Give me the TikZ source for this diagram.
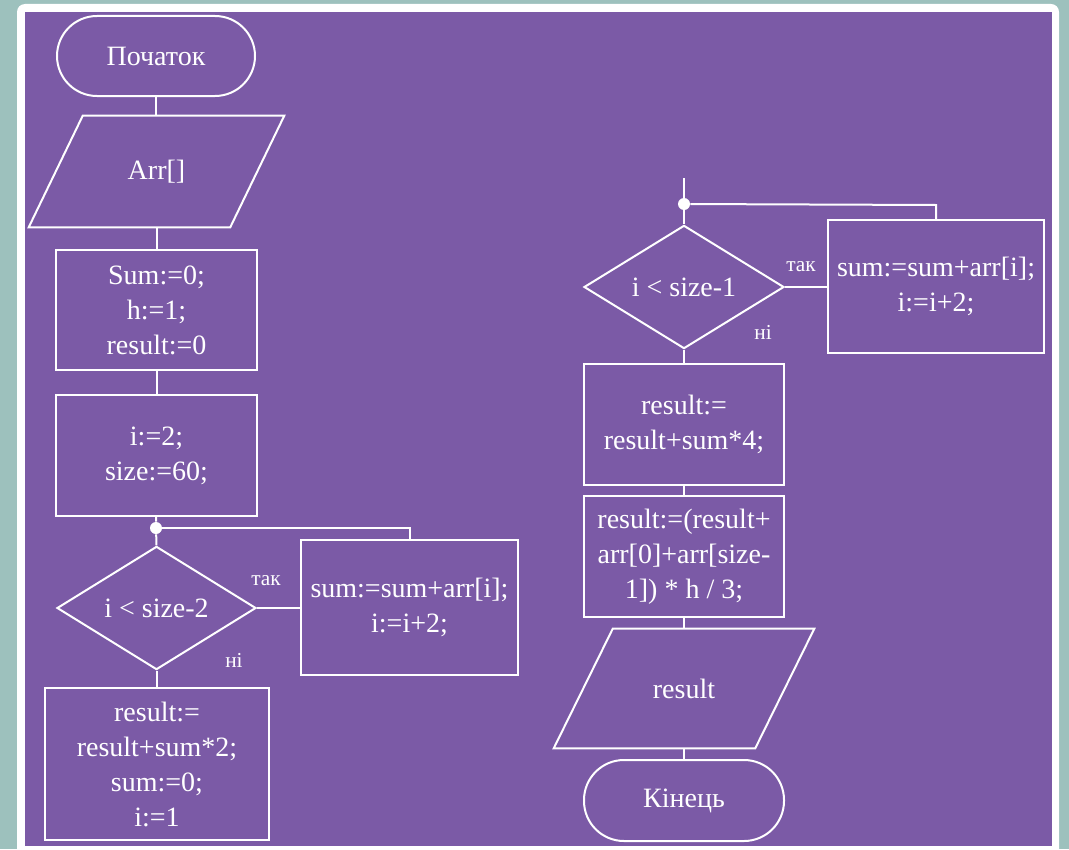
\documentclass[tikz,border=0pt]{standalone}
\usepackage{fontspec}
\setmainfont{Liberation Serif}
\usetikzlibrary{shapes.geometric,calc}
\definecolor{bgteal}{HTML}{9DC1BD}
\definecolor{panelpurple}{HTML}{7B5AA6}
\begin{document}
\begin{tikzpicture}[x=0.75pt,y=-0.75pt,
  every node/.style={text=white,font=\fontsize{21}{26.25}\selectfont,align=center,inner sep=0pt},
  flow/.style={draw=white,line width=1.5pt},
  termbox/.style={flow,rectangle,rounded corners=30pt,minimum width=150pt,minimum height=60pt},
  procbox/.style={flow,rectangle,minimum width=150.75pt,minimum height=90.5pt},
  decbox/.style={flow,diamond,minimum width=150pt,minimum height=90pt},
  iobox/.style={rectangle,minimum height=83.25pt},
  lbl/.style={font=\fontsize{16}{18}\selectfont},
  conn/.style={draw=white,line width=1.5pt},
  junction/.style={circle,fill=white,minimum size=9pt}]
\useasboundingbox (0,0) rectangle (1069,849);
\fill[bgteal] (0,0) rectangle (1069,849);
\fill[white,rounded corners=6] (17,4) rectangle (1059,860);
\fill[panelpurple] (25,12) rectangle (1052,846);

% left column
\node[termbox,minimum width=148.5pt] (start) at (156,56) {Початок};
\node[iobox,minimum width=191.25pt] (in) at (156.5,171.5) {Arr[]};
\draw[flow] ($(in.north west)+(54,0)$) -- (in.north east) -- ($(in.south east)-(54,0)$) -- (in.south west) -- cycle;
\node[procbox] (init) at (156.5,310) {Sum:=0;\\h:=1;\\result:=0};
\node[procbox] (sz) at (156.5,455.5) {i:=2;\\size:=60;};
\node[junction] (j1) at (156,528) {};
\node[decbox,minimum width=149.25pt] (c1) at (156.5,608) {i < size-2};
\node[procbox,minimum width=162.75pt,minimum height=101.25pt] (loop1) at (409.5,607.5) {sum:=sum+arr[i];\\i:=i+2;};
\node[procbox,minimum width=168pt,minimum height=114pt] (r2) at (157,764) {result:=\\result+sum*2;\\sum:=0;\\i:=1};
\node[lbl] (yes1) at (266,581) {так};
\node[lbl] (no1) at (234,660) {ні};
\coordinate (k1) at (410,528);

\draw[conn] (start) -- (start|-in.north);
\draw[conn] (in.south-|init.north) -- (init);
\draw[conn] (init) -- (sz);
\draw[conn] (sz.south-|j1) -- (j1) -- (c1.north);
\draw[conn] (c1.east) -- (c1.east-|loop1.west);
\draw[conn] (loop1.north-|k1) -- (k1) -- (j1);
\draw[conn] (c1.south) -- (c1.south|-r2.north);

% right column
\coordinate (top2) at (684,178);
\node[junction] (j2) at (684,204) {};
\node[decbox] (c2) at (684,287) {i < size-1};
\node[procbox,minimum width=162pt,minimum height=99.75pt] (loop2) at (936,286.5) {sum:=sum+arr[i];\\i:=i+2;};
\node[procbox,minimum width=150pt] (r4) at (684,424.5) {result:=\\result+sum*4;};
\node[procbox,minimum width=150pt] (fin) at (684,556.5) {result:=(result+\\arr[0]+arr[size-\\1]) * h / 3;};
\node[iobox,minimum width=195pt,minimum height=89.25pt] (out) at (684,688.5) {result};
\draw[flow] ($(out.north west)+(59,0)$) -- (out.north east) -- ($(out.south east)-(59,0)$) -- (out.south west) -- cycle;
\node[termbox,minimum height=60.75pt] (stop) at (684,800.5) {Кінець};
\node[lbl] (yes2) at (801,267) {так};
\node[lbl] (no2) at (763,332) {ні};
\coordinate (k2) at (936,205);

\draw[conn] (top2) -- (j2) -- (c2.north);
\draw[conn] (c2.east) -- (c2.east-|loop2.west);
\draw[conn] (loop2.north-|k2) -- (k2) -- (j2);
\draw[conn] (c2.south) -- (r4.north);
\draw[conn] (r4) -- (fin);
\draw[conn] (fin.south) -- (fin.south|-out.north);
\draw[conn] (out.south-|stop.north) -- (stop);
\end{tikzpicture}
\end{document}
